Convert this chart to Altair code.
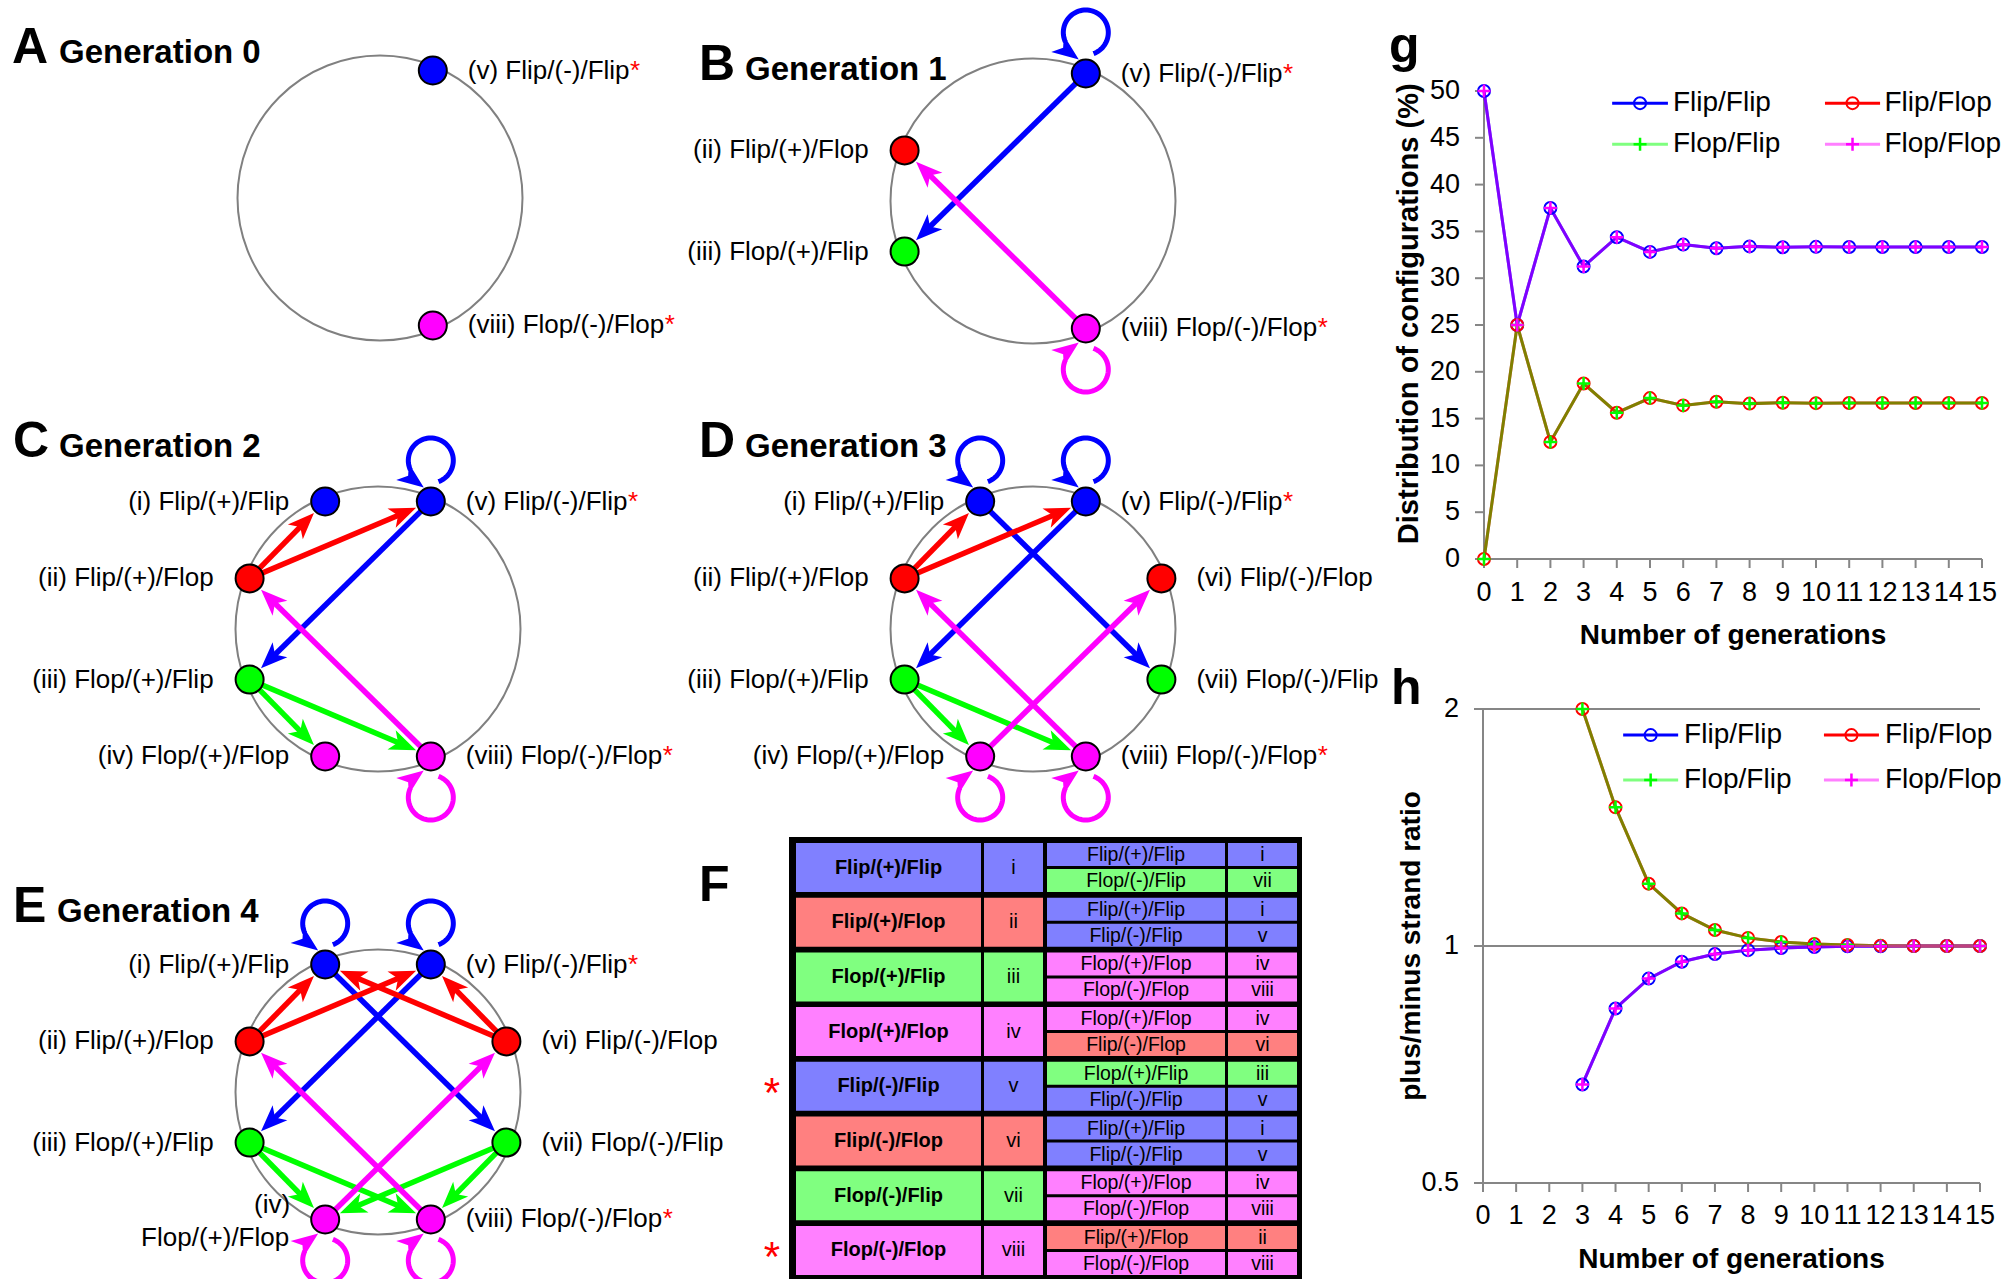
import math
import altair as alt
import pandas as pd

# ----------------------------------------------------------------- values (panels g, h)
generations = list(range(16))
pct_flip_flip = [50.0, 25.0, 37.5, 31.25, 34.38, 32.81, 33.59, 33.2, 33.4, 33.3, 33.35, 33.33, 33.33, 33.33, 33.33, 33.33]
pct_flip_flop = [0.0, 25.0, 12.5, 18.75, 15.63, 17.19, 16.41, 16.8, 16.6, 16.7, 16.65, 16.67, 16.67, 16.67, 16.67, 16.67]
pct_flop_flip = [0.0, 25.0, 12.5, 18.75, 15.63, 17.19, 16.41, 16.8, 16.6, 16.7, 16.65, 16.67, 16.67, 16.67, 16.67, 16.67]
pct_flop_flop = [50.0, 25.0, 37.5, 31.25, 34.38, 32.81, 33.59, 33.2, 33.4, 33.3, 33.35, 33.33, 33.33, 33.33, 33.33, 33.33]

ratio_generations = list(range(3, 16))
ratio_flip_flip = [0.667, 0.833, 0.909, 0.955, 0.977, 0.988, 0.994, 0.997, 0.999, 0.999, 1.0, 1.0, 1.0]
ratio_flip_flop = [2.0, 1.5, 1.2, 1.1, 1.048, 1.024, 1.012, 1.006, 1.003, 1.001, 1.0, 1.0, 1.0]
ratio_flop_flip = [2.0, 1.5, 1.2, 1.1, 1.048, 1.024, 1.012, 1.006, 1.003, 1.001, 1.0, 1.0, 1.0]
ratio_flop_flop = [0.667, 0.833, 0.909, 0.955, 0.977, 0.988, 0.994, 0.997, 0.999, 0.999, 1.0, 1.0, 1.0]

series_names = ["Flip/Flip", "Flip/Flop", "Flop/Flip", "Flop/Flop"]
pct_ticks = [0, 5, 10, 15, 20, 25, 30, 35, 40, 45, 50]
ratio_ticks = [0.5, 1, 2]
ratio_tick_labels = ["0.5", "1", "2"]

# ----------------------------------------------------------------- values (diagrams, table)
config_ids = ["i", "ii", "iii", "iv", "v", "vi", "vii", "viii"]
config_names = ["Flip/(+)/Flip", "Flip/(+)/Flop", "Flop/(+)/Flip", "Flop/(+)/Flop",
                "Flip/(-)/Flip", "Flip/(-)/Flop", "Flop/(-)/Flip", "Flop/(-)/Flop"]
offspring = [["i", "vii"], ["i", "v"], ["iv", "viii"], ["iv", "vi"],
             ["iii", "v"], ["i", "v"], ["iv", "viii"], ["ii", "viii"]]
starred = ["v", "viii"]
generation0 = ["v", "viii"]
panel_letters = ["A", "B", "C", "D", "E"]
panel_titles = ["Generation 0", "Generation 1", "Generation 2", "Generation 3", "Generation 4"]

# ----------------------------------------------------------------- styles / layout
W, H = 2007, 1279
FONT = "Liberation Sans"
AX = "#868686"
STRONG = {"Flip/Flip": "#0000FF", "Flip/Flop": "#FF0000", "Flop/Flip": "#00FF00", "Flop/Flop": "#FF00FF"}
PALE = {"Flip/Flip": "#8080FF", "Flip/Flop": "#FF8080", "Flop/Flip": "#80FF80", "Flop/Flop": "#FF80FF"}
LINE_OP = {"Flip/Flip": 1.0, "Flip/Flop": 1.0, "Flop/Flip": 0.5, "Flop/Flop": 0.5}
MARKER = {"Flip/Flip": "circle", "Flip/Flop": "circle", "Flop/Flip": "plus", "Flop/Flop": "plus"}
PLUS = "M-1,0L1,0M0,-1L0,1"
ARROW = "M0,-1L0.75,0.9L0,0.4L-0.75,0.9Z"

NODE_ANGLE = {"vi": 21.5, "v": 67.5, "i": 112.5, "ii": 158.5, "iii": 201.5,
              "iv": 247.5, "viii": 292.5, "vii": 338.5}
# centre x, centre y, letter x, baseline y, title x
PANEL_POS = [(380, 198, 12, 63, 59), (1033, 201, 699, 80, 745), (378, 629, 13, 457, 59),
             (1033, 629, 699, 457, 745), (378, 1092, 13, 922, 57)]
RING_R, NODE_RING, NODE_R = 142.5, 138, 15
LOOP_R, LOOP_OFF = 22.5, 41
LABEL_FS = 26

AW = {' ': 278, '(': 333, ')': 333, '-': 333, '+': 584, '/': 278, 'F': 611, 'l': 222,
      'i': 222, 'p': 556, 'o': 556, 'v': 500}


def text_w(s, size):
    return sum(AW.get(c, 556) for c in s) * size / 1000.0


def family(name):
    p = name.split("/")
    return p[0] + "/" + p[2]


idx = {c: i for i, c in enumerate(config_ids)}

XPX = alt.Scale(domain=[0, W], range=[0, W], nice=False, zero=False)
YPX = alt.Scale(domain=[0, H], range=[0, H], nice=False, zero=False)


def px(xf="x", yf="y"):
    return dict(x=alt.X(f"{xf}:Q", scale=XPX, axis=None), y=alt.Y(f"{yf}:Q", scale=YPX, axis=None))


# ----------------------------------------------------------------- build diagram geometry
gen_nodes = [list(generation0)]
gen_edges = [[]]
for g in range(1, 5):
    prev = gen_nodes[-1]
    edges = [(s, t) for s in config_ids if s in prev for t in offspring[idx[s]]]
    nodes = [c for c in config_ids if any(t == c for _, t in edges)]
    gen_nodes.append(nodes)
    gen_edges.append(edges)

rings, nodes_rows, edge_rows, head_rows, loop_rows = [], [], [], [], []
lab_left, lab_right, stars, letters, titles = [], [], [], [], []

for p in range(5):
    cx, cy, lx, by, tx = PANEL_POS[p]
    rings.append({"x": cx, "y": cy})
    letters.append({"x": lx, "y": by, "t": panel_letters[p]})
    titles.append({"x": tx, "y": by, "t": panel_titles[p]})

    def pos(c):
        a = math.radians(NODE_ANGLE[c])
        return cx + NODE_RING * math.cos(a), cy - NODE_RING * math.sin(a)

    for c in gen_nodes[p]:
        x, y = pos(c)
        nodes_rows.append({"x": x, "y": y, "color": STRONG[family(config_names[idx[c]])]})
        label = f"({c}) {config_names[idx[c]]}"
        left = 90 < NODE_ANGLE[c] < 270
        if p == 4 and c == "iv":
            lab_left.append({"x": x - 35, "y": y - 14, "t": f"({c})"})
            lab_left.append({"x": x - 36, "y": y + 19, "t": config_names[idx[c]]})
        elif left:
            lab_left.append({"x": x - 36, "y": y, "t": label})
        else:
            lab_right.append({"x": x + 35, "y": y, "t": label})
            if c in starred:
                stars.append({"x": x + 35 + text_w(label, LABEL_FS) + 0.5, "y": y, "t": "*"})

    loop_id = 0
    for s, t in gen_edges[p]:
        col = STRONG[family(config_names[idx[s]])]
        sx, sy = pos(s)
        sc = 14
        if s == t:
            top = sy < cy
            sgn = -1 if top else 1
            lcx, lcy = sx, sy + sgn * LOOP_OFF
            for k in range(61):
                phi = 70 - k * (275 / 60.0)
                ang = math.radians(phi * (-sgn))
                loop_rows.append({"x": lcx + LOOP_R * math.cos(ang), "y": lcy + LOOP_R * math.sin(ang),
                                  "o": k, "id": f"{p}-{loop_id}", "color": col})
            loop_id += 1
            ux, uy = 0.8, 0.6 * (-sgn)
            tipx, tipy = sx - 7, sy + sgn * 14
            head_rows.append({"x": tipx - ux * sc, "y": tipy - uy * sc, "color": col,
                              "angle": math.degrees(math.atan2(ux, -uy)) % 360, "size": (2 * sc) ** 2})
        else:
            ex_, ey_ = pos(t)
            dx, dy = ex_ - sx, ey_ - sy
            L = math.hypot(dx, dy)
            ux, uy = dx / L, dy / L
            tipx, tipy = ex_ - ux * (NODE_R + 1), ey_ - uy * (NODE_R + 1)
            axp, ayp = tipx - ux * sc, tipy - uy * sc
            edge_rows.append({"x": sx, "y": sy, "x2": axp, "y2": ayp, "color": col})
            head_rows.append({"x": axp, "y": ayp, "color": col,
                              "angle": math.degrees(math.atan2(ux, -uy)) % 360, "size": (2 * sc) ** 2})

letters.append({"x": 699, "y": 901, "t": "F"})
letters.append({"x": 1389, "y": 62, "t": "g"})
letters.append({"x": 1391, "y": 704, "t": "h"})

# ----------------------------------------------------------------- table F
T_TOP, T_PITCH, T_GH, T_SUB, T_SUBGAP = 843, 54.7, 49, 23, 26
C1, C2, C3, C4 = (796, 981), (984, 1043), (1047, 1225), (1228, 1297)
cells, cell_bold, cell_txt, cell_small = [], [], [], []
for k, c in enumerate(config_ids):
    top = T_TOP + k * T_PITCH
    pal = PALE[family(config_names[k])]
    cells.append({"x": C1[0], "x2": C1[1], "y": top, "y2": top + T_GH, "fill": pal})
    cells.append({"x": C2[0], "x2": C2[1], "y": top, "y2": top + T_GH, "fill": pal})
    cell_bold.append({"x": sum(C1) / 2, "y": top + T_GH / 2, "t": config_names[k]})
    cell_txt.append({"x": sum(C2) / 2, "y": top + T_GH / 2, "t": c})
    for j, ch in enumerate(offspring[k]):
        y0 = top + j * T_SUBGAP
        cp = PALE[family(config_names[idx[ch]])]
        cells.append({"x": C3[0], "x2": C3[1], "y": y0, "y2": y0 + T_SUB, "fill": cp})
        cells.append({"x": C4[0], "x2": C4[1], "y": y0, "y2": y0 + T_SUB, "fill": cp})
        cell_small.append({"x": sum(C3) / 2, "y": y0 + T_SUB / 2 + 0.5, "t": config_names[idx[ch]]})
        cell_small.append({"x": sum(C4) / 2, "y": y0 + T_SUB / 2 + 0.5, "t": ch})
table_stars = [{"x": 772, "y": T_TOP + idx[c] * T_PITCH + T_GH / 2 + 8, "t": "*"} for c in starred]

# ----------------------------------------------------------------- diagram layers
D = pd.DataFrame
diag_layers = [
    alt.Chart(D(rings)).mark_point(shape="circle", filled=False, size=(2 * RING_R) ** 2,
                                   stroke="#808080", strokeWidth=2, opacity=1).encode(**px()),
    alt.Chart(D(edge_rows)).mark_rule(strokeWidth=5.5, strokeCap="butt").encode(
        **px(), x2="x2:Q", y2="y2:Q", color=alt.Color("color:N", scale=None)),
    alt.Chart(D(loop_rows)).mark_line(strokeWidth=5, strokeCap="butt").encode(
        **px(), order="o:Q", detail="id:N", color=alt.Color("color:N", scale=None)),
    alt.Chart(D(head_rows)).mark_point(shape=ARROW, filled=True, opacity=1, strokeWidth=0).encode(
        **px(), color=alt.Color("color:N", scale=None), angle=alt.Angle("angle:Q", scale=None),
        size=alt.Size("size:Q", scale=None)),
    alt.Chart(D(nodes_rows)).mark_point(shape="circle", filled=True, size=784, stroke="black",
                                        strokeWidth=2, opacity=1).encode(
        **px(), fill=alt.Fill("color:N", scale=None)),
    alt.Chart(D(lab_left)).mark_text(font=FONT, fontSize=LABEL_FS, align="right", baseline="middle",
                                     color="black").encode(**px(), text="t:N"),
    alt.Chart(D(lab_right)).mark_text(font=FONT, fontSize=LABEL_FS, align="left", baseline="middle",
                                      color="black").encode(**px(), text="t:N"),
    alt.Chart(D(stars)).mark_text(font=FONT, fontSize=LABEL_FS, align="left", baseline="middle",
                                  color="#FF0000").encode(**px(), text="t:N"),
    alt.Chart(D(letters)).mark_text(font=FONT, fontSize=50, fontWeight="bold", align="left",
                                    baseline="alphabetic", color="black").encode(**px(), text="t:N"),
    alt.Chart(D(titles)).mark_text(font=FONT, fontSize=33, fontWeight="bold", align="left",
                                   baseline="alphabetic", color="black").encode(**px(), text="t:N"),
    # table
    alt.Chart(D([{"x": 789, "x2": 1302, "y": 837, "y2": 1281}])).mark_rect(color="black").encode(
        **px(), x2="x2:Q", y2="y2:Q"),
    alt.Chart(D(cells)).mark_rect().encode(**px(), x2="x2:Q", y2="y2:Q",
                                           fill=alt.Fill("fill:N", scale=None)),
    alt.Chart(D(cell_bold)).mark_text(font=FONT, fontSize=20, fontWeight="bold", align="center",
                                      baseline="middle", color="black").encode(**px(), text="t:N"),
    alt.Chart(D(cell_txt)).mark_text(font=FONT, fontSize=20, align="center",
                                     baseline="middle", color="black").encode(**px(), text="t:N"),
    alt.Chart(D(cell_small)).mark_text(font=FONT, fontSize=19.5, align="center",
                                       baseline="middle", color="black").encode(**px(), text="t:N"),
    alt.Chart(D(table_stars)).mark_text(font=FONT, fontSize=42, align="center",
                                        baseline="middle", color="#FF0000").encode(**px(), text="t:N"),
]
diagram = alt.layer(*diag_layers)


# ----------------------------------------------------------------- line plots g, h
def make_plot(xvals, values, xrange_, yscale, ybase, ytop, yticks, ytick_labels, ymid, ytitle, ytitle_fs,
              grid_vals, leg_y, leg_x, lab_dy, title_dx):
    XS = alt.Scale(domain=[0, 15], range=xrange_, nice=False, zero=False)
    ex = lambda f: alt.X(f"{f}:Q", scale=XS, axis=None)
    ey = lambda f: alt.Y(f"{f}:Q", scale=yscale, axis=None)
    L = []
    if grid_vals:
        L.append(alt.Chart(D({"a": 0, "b": 15, "v": grid_vals})).mark_rule(color=AX, strokeWidth=2)
                 .encode(x=ex("a"), x2="b:Q", y=ey("v")))
    L.append(alt.Chart(D([{"a": 0, "b": 15, "v": ybase}])).mark_rule(color=AX, strokeWidth=2)
             .encode(x=ex("a"), x2="b:Q", y=ey("v")))
    L.append(alt.Chart(D([{"a": 0, "v": ybase, "w": ytop}])).mark_rule(color=AX, strokeWidth=2)
             .encode(x=ex("a"), y=ey("v"), y2="w:Q"))
    xt = D({"g": generations, "v": ybase, "t": [str(g) for g in generations]})
    L.append(alt.Chart(xt).mark_rule(color=AX, strokeWidth=2, y2Offset=9)
             .encode(x=ex("g"), y=ey("v"), y2="v:Q"))
    yt = D({"a": 0, "v": yticks, "t": ytick_labels})
    L.append(alt.Chart(yt).mark_rule(color=AX, strokeWidth=2, xOffset=-9)
             .encode(x=ex("a"), x2="a:Q", y=ey("v")))
    L.append(alt.Chart(xt).mark_text(font=FONT, fontSize=27, baseline="middle", yOffset=lab_dy, color="black")
             .encode(x=ex("g"), y=ey("v"), text="t:N"))
    L.append(alt.Chart(yt).mark_text(font=FONT, fontSize=27, align="right", baseline="middle",
                                     xOffset=-24, color="black")
             .encode(x=ex("a"), y=ey("v"), text="t:N"))
    L.append(alt.Chart(D([{"a": 7.5, "v": ybase, "t": "Number of generations"}]))
             .mark_text(font=FONT, fontSize=28, fontWeight="bold", baseline="middle", yOffset=77, color="black")
             .encode(x=ex("a"), y=ey("v"), text="t:N"))
    L.append(alt.Chart(D([{"a": 0, "v": ymid, "t": ytitle}]))
             .mark_text(font=FONT, fontSize=ytitle_fs, fontWeight="bold", baseline="middle", angle=270,
                        xOffset=title_dx, color="black")
             .encode(x=ex("a"), y=ey("v"), text="t:N"))
    for s, vals in zip(series_names, values):
        L.append(alt.Chart(D({"g": xvals, "v": vals})).mark_line(
            color=STRONG[s], strokeWidth=3, opacity=LINE_OP[s]).encode(x=ex("g"), y=ey("v")))
    for i, s in enumerate(series_names):
        ly = leg_y[i // 2]
        x1, x2, _, _ = leg_x[i % 2]
        L.append(alt.Chart(D([{"a": x1, "b": x2, "v": ly}])).mark_rule(
            color=STRONG[s], strokeWidth=3, opacity=LINE_OP[s]).encode(x=ex("a"), x2="b:Q", y=ey("v")))

    def marker(s):
        if MARKER[s] == "circle":
            return dict(shape="circle", filled=False, size=144, strokeWidth=2, color=STRONG[s], opacity=1)
        return dict(shape=PLUS, filled=False, size=169, strokeWidth=2.5, color=STRONG[s], opacity=1)

    for i, (s, vals) in enumerate(zip(series_names, values)):
        L.append(alt.Chart(D({"g": xvals, "v": vals})).mark_point(**marker(s))
                 .encode(x=ex("g"), y=ey("v")))
        ly = leg_y[i // 2]
        _, _, xm, xtx = leg_x[i % 2]
        L.append(alt.Chart(D([{"a": xm, "v": ly}])).mark_point(**marker(s)).encode(x=ex("a"), y=ey("v")))
        L.append(alt.Chart(D([{"a": xtx, "v": ly, "t": s}])).mark_text(
            font=FONT, fontSize=28, align="left", baseline="middle", color="black")
            .encode(x=ex("a"), y=ey("v"), text="t:N"))
    return alt.layer(*L)


g_chart = make_plot(
    generations, [pct_flip_flip, pct_flip_flop, pct_flop_flip, pct_flop_flop],
    [1484, 1982], alt.Scale(domain=[0, 50], range=[559, 91], nice=False, zero=False),
    0, 50, pct_ticks, [str(t) for t in pct_ticks], 26.2, "Distribution of configurations (%)", 29,
    [], [48.7, 44.3], [(3.86, 5.54, 4.70, 5.69), (10.27, 11.93, 11.10, 12.06)], 34, -75)

h_chart = make_plot(
    ratio_generations, [ratio_flip_flip, ratio_flip_flop, ratio_flop_flip, ratio_flop_flop],
    [1483, 1980], alt.Scale(type="log", domain=[0.5, 2], range=[1183, 709], nice=False, zero=False),
    0.5, 2, ratio_ticks, ratio_tick_labels, 1, "plus/minus strand ratio", 28,
    [1, 2], [1.853, 1.625], [(4.23, 5.89, 5.06, 6.07), (10.29, 11.95, 11.12, 12.13)], 33, -71)

chart = alt.layer(diagram, g_chart, h_chart).resolve_scale(
    x="independent", y="independent"
).properties(
    width=W, height=H, padding=0, background="white",
    autosize=alt.AutoSizeParams(type="none"),
).configure_view(stroke=None)

chart.save("out.html", embed_options={"renderer": "svg", "actions": False})
